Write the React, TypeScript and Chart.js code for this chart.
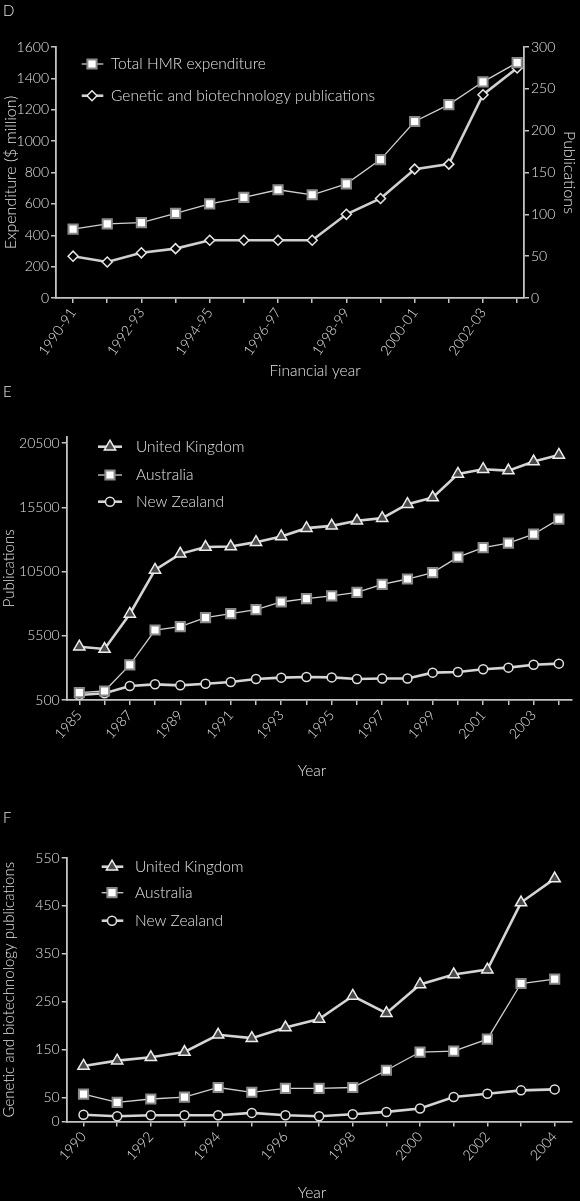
import React, { useEffect, useRef } from 'react';
import { Chart, registerables } from 'chart.js';

Chart.register(...registerables);

const FONT = 'Lato, "DejaVu Sans", sans-serif';
const WEIGHT = '300';
const TEXT = '#e2e2e2';
const AXIS = '#c4c4c4';

// ---------- Panel D ----------
const dYears = ['1990-91', '1991-92', '1992-93', '1993-94', '1994-95', '1995-96', '1996-97', '1997-98', '1998-99', '1999-00', '2000-01', '2001-02', '2002-03', '2003-04'];
const dTickLabels = ['1990-91', '1992-93', '1994-95', '1996-97', '1998-99', '2000-01', '2002-03'];
const dHmr = [439, 473, 481, 540, 600, 641, 690, 658, 728, 882, 1125, 1233, 1378, 1500];
const dPubs = [50, 43, 54, 59, 69, 69, 69, 69, 100, 119, 154, 160, 243, 275];
const dLeftTicks = [0, 200, 400, 600, 800, 1000, 1200, 1400, 1600];
const dRightTicks = [0, 50, 100, 150, 200, 250, 300];

// ---------- Panel E ----------
const eYears = ['1985', '1986', '1987', '1988', '1989', '1990', '1991', '1992', '1993', '1994', '1995', '1996', '1997', '1998', '1999', '2000', '2001', '2002', '2003', '2004'];
const eTickLabels = ['1985', '1987', '1989', '1991', '1993', '1995', '1997', '1999', '2001', '2003'];
const eUK = [4650, 4470, 7200, 10630, 11880, 12410, 12450, 12790, 13230, 13880, 14060, 14450, 14660, 15750, 16260, 18100, 18470, 18360, 19060, 19580];
const eAus = [1070, 1200, 3230, 5950, 6210, 6910, 7220, 7530, 8130, 8400, 8600, 8880, 9500, 9920, 10420, 11620, 12370, 12710, 13410, 14580];
const eNZ = [890, 1020, 1590, 1720, 1640, 1770, 1900, 2140, 2240, 2290, 2260, 2140, 2170, 2170, 2630, 2680, 2890, 3020, 3250, 3330];
const eYTicks = [500, 5500, 10500, 15500, 20500];

// ---------- Panel F ----------
const fYears = ['1990', '1991', '1992', '1993', '1994', '1995', '1996', '1997', '1998', '1999', '2000', '2001', '2002', '2003', '2004'];
const fTickLabels = ['1990', '1992', '1994', '1996', '1998', '2000', '2002', '2004'];
const fUK = [116, 127, 134, 145, 181, 174, 196, 214, 262, 226, 286, 307, 317, 457, 507];
const fAus = [57, 40, 47, 51, 71, 61, 69, 69, 71, 107, 145, 147, 172, 288, 297];
const fNZ = [14, 11, 13, 13, 13, 18, 13, 11, 15, 20, 27, 51, 58, 65, 67];
const fYTicks = [0, 50, 150, 250, 350, 450, 550];

type Style = {
  label: string;
  pointStyle: string;
  radius: number;
  fill: string;
  stroke: string;
  pointBorderWidth: number;
  lineColor: string;
  lineWidth: number;
};

const SQUARE = (label: string): Style => ({ label, pointStyle: 'rect', radius: 6.5, fill: '#ffffff', stroke: '#8a8a8a', pointBorderWidth: 2, lineColor: '#d0d0d0', lineWidth: 1.3 });
const DIAMOND = (label: string): Style => ({ label, pointStyle: 'rectRot', radius: 5, fill: '#000000', stroke: '#e6e6e6', pointBorderWidth: 1.5, lineColor: '#cfcfcf', lineWidth: 2.6 });
const TRIANGLE = (label: string): Style => ({ label, pointStyle: 'triangle', radius: 6.5, fill: '#4a4a4a', stroke: '#eeeeee', pointBorderWidth: 1.5, lineColor: '#d4d4d4', lineWidth: 2.6 });
const CIRCLE = (label: string): Style => ({ label, pointStyle: 'circle', radius: 4.5, fill: '#000000', stroke: '#e0e0e0', pointBorderWidth: 1.5, lineColor: '#d4d4d4', lineWidth: 2.6 });

function toXY(values: number[]) {
  return values.map((v, i) => ({ x: i, y: v }));
}

function makeDataset(values: number[], s: Style, axis?: string) {
  const ds: any = {
    label: s.label,
    data: toXY(values),
    borderColor: s.lineColor,
    borderWidth: s.lineWidth,
    pointStyle: s.pointStyle,
    pointRadius: s.radius,
    pointHoverRadius: s.radius,
    pointBackgroundColor: s.fill,
    pointBorderColor: s.stroke,
    pointBorderWidth: s.pointBorderWidth,
    tension: 0,
    fill: false,
    clip: false,
  };
  if (axis) ds.yAxisID = axis;
  return ds;
}

function drawMarker(ctx: CanvasRenderingContext2D, s: Style, x: number, y: number) {
  const r = s.radius;
  ctx.beginPath();
  if (s.pointStyle === 'rect') {
    const h = r * Math.SQRT1_2;
    ctx.rect(x - h, y - h, 2 * h, 2 * h);
  } else if (s.pointStyle === 'rectRot') {
    ctx.moveTo(x - r, y);
    ctx.lineTo(x, y - r);
    ctx.lineTo(x + r, y);
    ctx.lineTo(x, y + r);
    ctx.closePath();
  } else if (s.pointStyle === 'triangle') {
    let a = 0;
    ctx.moveTo(x + Math.sin(a) * r, y - Math.cos(a) * r);
    a += (2 * Math.PI) / 3;
    ctx.lineTo(x + Math.sin(a) * r, y - Math.cos(a) * r);
    a += (2 * Math.PI) / 3;
    ctx.lineTo(x + Math.sin(a) * r, y - Math.cos(a) * r);
    ctx.closePath();
  } else {
    ctx.arc(x, y, r, 0, Math.PI * 2);
  }
  ctx.fillStyle = s.fill;
  ctx.fill();
  ctx.lineWidth = s.pointBorderWidth;
  ctx.strokeStyle = s.stroke;
  ctx.stroke();
}

type Decor = {
  letter: { text: string; x: number; y: number };
  legend: { rows: number[]; x1: number; x2: number; mx: number; tx: number; styles: Style[] };
  xTitle: { text: string; x: number; y: number };
};

function decorPlugin(d: Decor) {
  return {
    id: 'decor',
    afterDraw(chart: any) {
      const ctx: CanvasRenderingContext2D = chart.ctx;
      ctx.save();
      ctx.fillStyle = TEXT;
      ctx.textBaseline = 'middle';
      ctx.font = `${WEIGHT} 15px ${FONT}`;
      ctx.textAlign = 'left';
      ctx.fillText(d.letter.text, d.letter.x, d.letter.y);
      d.legend.styles.forEach((s, i) => {
        const y = d.legend.rows[i];
        ctx.beginPath();
        ctx.moveTo(d.legend.x1, y);
        ctx.lineTo(d.legend.x2, y);
        ctx.strokeStyle = s.lineColor;
        ctx.lineWidth = s.lineWidth;
        ctx.stroke();
        drawMarker(ctx, s, d.legend.mx, y);
        ctx.fillStyle = TEXT;
        ctx.font = `${WEIGHT} 15.5px ${FONT}`;
        ctx.textAlign = 'left';
        ctx.fillText(s.label, d.legend.tx, y);
      });
      ctx.font = `${WEIGHT} 15.5px ${FONT}`;
      ctx.textAlign = 'center';
      ctx.fillStyle = TEXT;
      ctx.fillText(d.xTitle.text, d.xTitle.x, d.xTitle.y);
      ctx.restore();
    },
  };
}

const tickFont = { family: FONT, size: 14, weight: WEIGHT };

function xAxis(years: string[], labels: string[], min: number, max: number, rot: number, height: number) {
  return {
    type: 'linear',
    position: 'bottom',
    min,
    max,
    afterBuildTicks: (axis: any) => {
      axis.ticks = years.map((_, i) => ({ value: i }));
    },
    afterFit: (axis: any) => {
      axis.height = height;
    },
    ticks: {
      autoSkip: false,
      minRotation: rot,
      maxRotation: rot,
      padding: 2,
      color: TEXT,
      font: tickFont,
      callback: (v: number) => (labels.includes(years[v]) ? years[v] : ''),
    },
    border: { display: true, color: AXIS, width: 1.8 },
    grid: { display: true, drawOnChartArea: false, drawTicks: true, tickLength: 5, color: AXIS, lineWidth: 1.5 },
  };
}

function yAxis(pos: string, min: number, max: number, ticks: number[], width: number, title: string, titlePad: number, titleSize: number) {
  return {
    type: 'linear',
    position: pos,
    min,
    max,
    afterBuildTicks: (axis: any) => {
      axis.ticks = ticks.map((v) => ({ value: v }));
    },
    afterFit: (axis: any) => {
      axis.width = width;
    },
    ticks: {
      padding: 2,
      color: TEXT,
      font: tickFont,
      callback: (v: number) => String(v),
    },
    title: { display: true, text: title, color: TEXT, font: { family: FONT, size: titleSize, weight: WEIGHT }, padding: titlePad },
    border: { display: true, color: AXIS, width: 1.8 },
    grid: { display: true, drawOnChartArea: false, drawTicks: true, tickLength: 5, color: AXIS, lineWidth: 1.5 },
  };
}

function useChart(ref: React.RefObject<HTMLCanvasElement | null>, build: () => any) {
  useEffect(() => {
    if (!ref.current) return;
    const chart = new Chart(ref.current, build());
    return () => chart.destroy();
  }, []);
}

const baseOptions = (padding: any) => ({
  responsive: true,
  maintainAspectRatio: false,
  animation: false,
  layout: { padding },
  plugins: { legend: { display: false }, tooltip: { enabled: false } },
});

function PanelD() {
  const ref = useRef<HTMLCanvasElement>(null);
  const sHmr = SQUARE('Total HMR expenditure');
  const sPub = DIAMOND('Genetic and biotechnology publications');
  useChart(ref, () => ({
    type: 'line',
    data: {
      datasets: [makeDataset(dHmr, sHmr, 'y'), makeDataset(dPubs, sPub, 'y2')],
    },
    options: {
      ...baseOptions({ top: 47, left: 0, right: 0, bottom: 0 }),
      scales: {
        x: xAxis(dYears, dTickLabels, -0.5, 13.2, 55, 82),
        y: yAxis('left', 0, 1600, dLeftTicks, 56, 'Expenditure ($ million)', 1, 16),
        y2: yAxis('right', 0, 300, dRightTicks, 56, 'Publications', 1, 16),
      },
    },
    plugins: [
      decorPlugin({
        letter: { text: 'D', x: 3, y: 11 },
        legend: { rows: [64, 95.7], x1: 81.7, x2: 103.3, mx: 92, tx: 111, styles: [sHmr, sPub] },
        xTitle: { text: 'Financial year', x: 315, y: 371 },
      }),
    ],
  }));
  return (
    <div style={{ position: 'absolute', left: 0, top: 0, width: 580, height: 380 }}>
      <canvas ref={ref} />
    </div>
  );
}

function PanelE() {
  const ref = useRef<HTMLCanvasElement>(null);
  const sUK = TRIANGLE('United Kingdom');
  const sAus = SQUARE('Australia');
  const sNZ = CIRCLE('New Zealand');
  useChart(ref, () => ({
    type: 'line',
    data: {
      datasets: [makeDataset(eUK, sUK), makeDataset(eAus, sAus), makeDataset(eNZ, sNZ)],
    },
    options: {
      ...baseOptions({ top: 56.7, left: 0, right: 4.3, bottom: 0 }),
      scales: {
        x: xAxis(eYears, eTickLabels, -0.5, 19.5, 48, 100),
        y: yAxis('left', 500, 21000, eYTicks, 66.7, 'Publications', 0, 15),
      },
    },
    plugins: [
      decorPlugin({
        letter: { text: 'E', x: 3, y: 12 },
        legend: { rows: [66.7, 95, 121.7], x1: 98, x2: 122, mx: 110, tx: 136, styles: [sUK, sAus, sNZ] },
        xTitle: { text: 'Year', x: 312, y: 390.7 },
      }),
    ],
  }));
  return (
    <div style={{ position: 'absolute', left: 0, top: 380, width: 580, height: 420 }}>
      <canvas ref={ref} />
    </div>
  );
}

function PanelF() {
  const ref = useRef<HTMLCanvasElement>(null);
  const sUK = TRIANGLE('United Kingdom');
  const sAus = SQUARE('Australia');
  const sNZ = CIRCLE('New Zealand');
  useChart(ref, () => ({
    type: 'line',
    data: {
      datasets: [makeDataset(fUK, sUK), makeDataset(fAus, sAus), makeDataset(fNZ, sNZ)],
    },
    options: {
      ...baseOptions({ top: 58, left: 0, right: 4.3, bottom: 0 }),
      scales: {
        x: xAxis(fYears, fTickLabels, -0.5, 14.5, 48, 79.5),
        y: yAxis('left', 0, 550, fYTicks, 66.7, 'Genetic and biotechnology publications', 0, 15),
      },
    },
    plugins: [
      decorPlugin({
        letter: { text: 'F', x: 3, y: 18 },
        legend: { rows: [66.7, 92.7, 120.7], x1: 101.7, x2: 123.3, mx: 112, tx: 135, styles: [sUK, sAus, sNZ] },
        xTitle: { text: 'Year', x: 312, y: 392.7 },
      }),
    ],
  }));
  return (
    <div style={{ position: 'absolute', left: 0, top: 800, width: 580, height: 401 }}>
      <canvas ref={ref} />
    </div>
  );
}

export default function App() {
  useEffect(() => {
    document.body.style.margin = '0';
    document.body.style.background = '#000';
  }, []);
  return (
    <div style={{ position: 'relative', width: 580, height: 1201, background: '#000', overflow: 'hidden' }}>
      <PanelD />
      <PanelE />
      <PanelF />
    </div>
  );
}
